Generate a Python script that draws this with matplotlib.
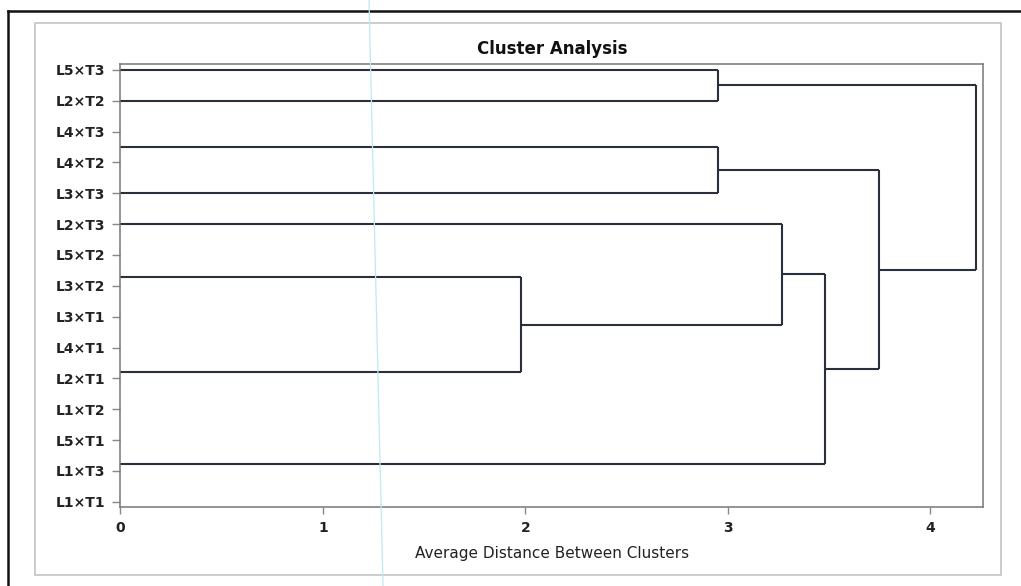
import matplotlib
matplotlib.use('Agg')
import matplotlib.pyplot as plt
from matplotlib.lines import Line2D
from matplotlib.patches import Rectangle

# tick labels, top to bottom
labels = ['L5×T3', 'L2×T2', 'L4×T3', 'L4×T2', 'L3×T3', 'L2×T3', 'L5×T2', 'L3×T2',
          'L3×T1', 'L4×T1', 'L2×T1', 'L1×T2', 'L5×T1', 'L1×T3', 'L1×T1']

# where the leaf lines sit, in label units (as printed, not all on a label)
leaf_pos = [0, 1, 2.49, 4, 5, 6.73, 9.78, 12.78]

# merges: (child a, child b, distance); ids >= len(leaf_pos) are earlier merges
merges = [
    (0, 1, 2.95),
    (2, 3, 2.95),
    (5, 6, 1.98),
    (4, 10, 3.265),
    (11, 7, 3.48),
    (9, 12, 3.747),
    (8, 13, 4.225),
]

line_col = '#2b2f3c'

fig = plt.figure(figsize=(10.21, 5.86), dpi=100)
ax = fig.add_axes([0.118, 0.1353, 0.845, 0.7555])

pos = list(leaf_pos)
height = [0.0] * len(leaf_pos)
for a, b, d in merges:
    ya, yb = pos[a], pos[b]
    ax.plot([height[a], d], [ya, ya], color=line_col, lw=1.5, solid_capstyle='butt')
    ax.plot([height[b], d], [yb, yb], color=line_col, lw=1.5, solid_capstyle='butt')
    ax.plot([d, d], [ya, yb], color=line_col, lw=1.5, solid_capstyle='butt')
    pos.append((ya + yb) / 2)
    height.append(d)

ax.set_xlim(0, 4.261)
ax.set_ylim(14.16, -0.19)
ax.set_yticks(range(len(labels)))
ax.set_yticklabels(labels, fontsize=10, fontweight='bold', color='#222222')
ax.set_xticks([0, 1, 2, 3, 4])
ax.set_xticklabels(['0', '1', '2', '3', '4'], fontsize=10, fontweight='bold', color='#222222')
ax.tick_params(axis='y', length=6, width=1, color='#888888', pad=5)
ax.tick_params(axis='x', length=5, width=1, color='#888888', pad=5)
for s in ax.spines.values():
    s.set_color('#777777')
    s.set_linewidth(1.1)

ax.set_xlabel('Average Distance Between Clusters', fontsize=11, color='#222222', labelpad=8)
ax.set_title('Cluster Analysis', fontsize=12, fontweight='bold', color='#111111', pad=7)

# page frame from the scanned report
fig.add_artist(Rectangle((35 / 1021, 1 - 575 / 586), 966 / 1021, 552 / 586,
                         transform=fig.transFigure, fill=False, ec='#c4c4c4', lw=1.2))
fig.add_artist(Line2D([8 / 1021, 1], [1 - 11 / 586, 1 - 11 / 586],
                      transform=fig.transFigure, color='#111111', lw=1.8))
fig.add_artist(Line2D([8 / 1021, 8 / 1021], [0, 1 - 11 / 586],
                      transform=fig.transFigure, color='#111111', lw=1.8))
fig.add_artist(Line2D([369 / 1021, 383 / 1021], [1, 0],
                      transform=fig.transFigure, color='#bfe8f4', lw=0.9))

fig.savefig('out.png', dpi=100)
